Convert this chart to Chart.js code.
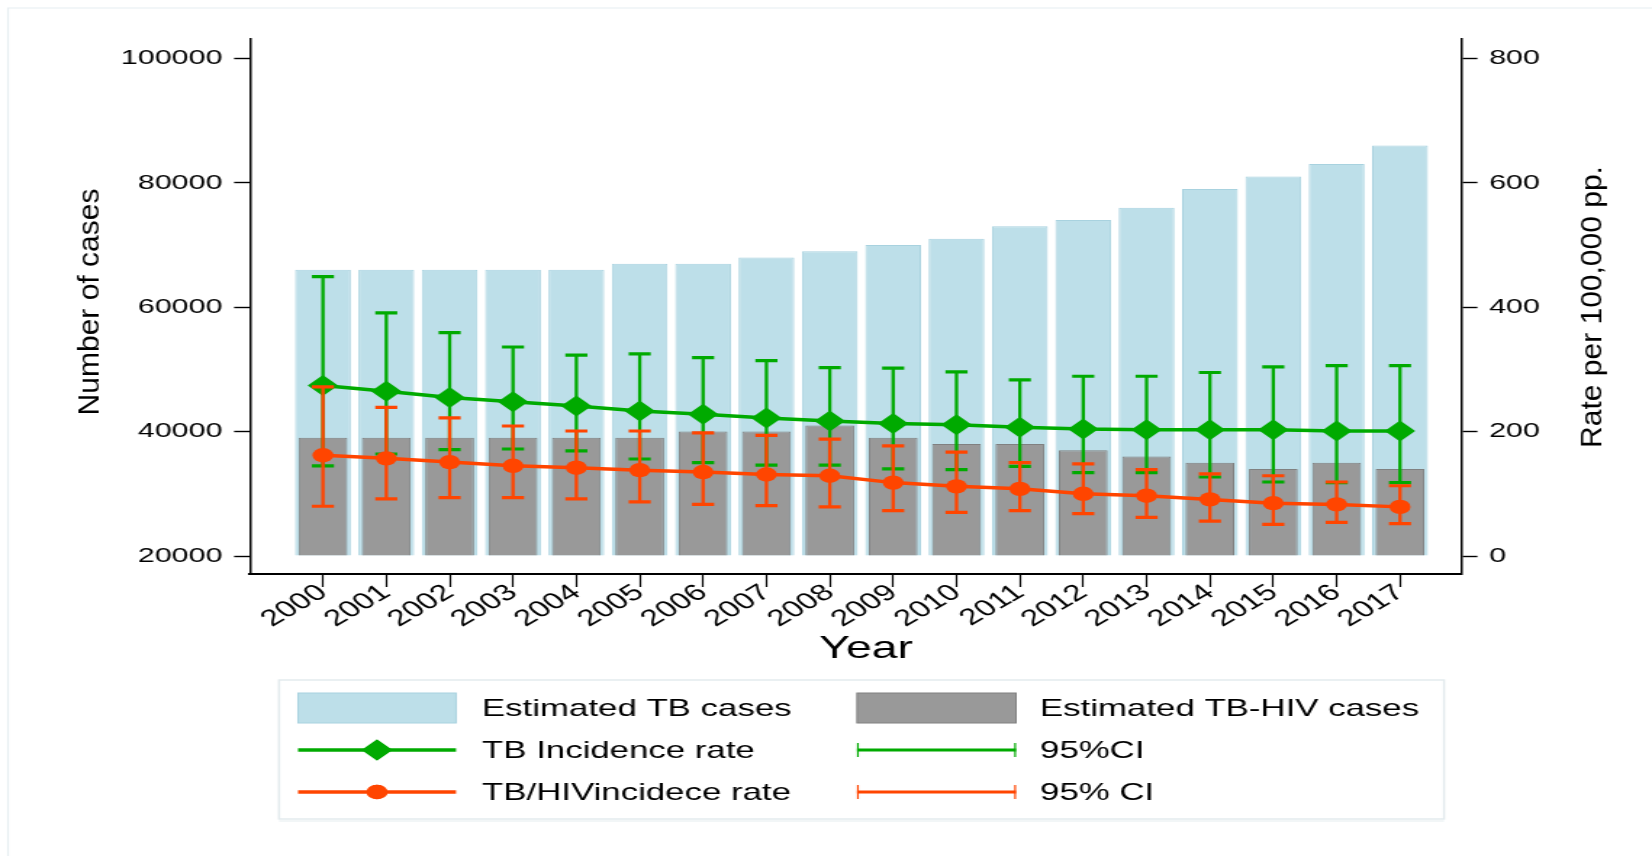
<!DOCTYPE html>
<html>
<head>
<meta charset="utf-8">
<script src="https://cdn.jsdelivr.net/npm/chart.js@4/dist/chart.umd.min.js"></script>
<style>
  html, body { margin: 0; padding: 0; background: #ffffff; }
  #c { display: block; width: 1652px; height: 856px; }
</style>
</head>
<body>
<canvas id="c" width="1139" height="856" style="width:1652px;height:856px;"></canvas>
<script>
// ---------------- DATA ----------------
const years = [2000, 2001, 2002, 2003, 2004, 2005, 2006, 2007, 2008, 2009, 2010, 2011, 2012, 2013, 2014, 2015, 2016, 2017];
const estimatedTBCases = [66000, 66000, 66000, 66000, 66000, 67000, 67000, 68000, 69000, 70000, 71000, 73000, 74000, 76000, 79000, 81000, 83000, 86000];
const estimatedTBHIVCases = [39000, 39000, 39000, 39000, 39000, 39000, 40000, 40000, 41000, 39000, 38000, 38000, 37000, 36000, 35000, 34000, 35000, 34000];
const tbIncidenceRate = [274, 265, 255, 248, 241, 233, 228, 222, 217, 213, 211, 207, 204, 203, 203, 203, 201, 201];
const tbIncidenceUpper = [449, 391, 359, 336, 323, 325, 319, 314, 303, 302, 296, 283, 289, 289, 295, 304, 306, 306];
const tbIncidenceLower = [145, 164, 171, 172, 169, 156, 150, 146, 146, 140, 139, 144, 134, 134, 127, 119, 118, 118];
const tbHivRate = [162, 157, 151, 145, 142, 138, 135, 131, 129, 118, 112, 108, 100, 97, 91, 85, 83, 79];
const tbHivUpper = [272, 239, 222, 209, 201, 201, 198, 194, 188, 177, 167, 150, 148, 139, 132, 129, 119, 113];
const tbHivLower = [80, 92, 94, 94, 92, 87, 83, 81, 79, 73, 70, 73, 68, 62, 56, 51, 54, 52];
const leftTicks = [20000, 40000, 60000, 80000, 100000];
const rightTicks = [0, 200, 400, 600, 800];
const legendLabels = ['Estimated TB cases', 'Estimated TB-HIV cases', 'TB Incidence rate', '95%CI', 'TB/HIVincidece rate', '95% CI'];
const xTitle = 'Year';
const leftTitle = 'Number of cases';
const rightTitle = 'Rate per 100,000 pp.';

// ---------------- STYLE / LAYOUT ----------------
const K = 1652 / 1139;           // canvas is stretched horizontally by CSS
const FONT = "'Liberation Sans', Arial, Helvetica, sans-serif";
const GREEN = '#00aa00';
const ORANGE = '#ff4500';
const LIGHTBLUE = '#bddfe9';
const GREY = '#999999';

const errorBars = {
  id: 'errorBars',
  beforeDatasetDraw(chart, args) {
    const ds = chart.data.datasets[args.index];
    if (!ds.errHigh) return;
    const ctx = chart.ctx;
    const xs = chart.scales.x;
    const ys = chart.scales[ds.yAxisID];
    const half = 7.6;
    ctx.save();
    ctx.strokeStyle = ds.borderColor;
    ctx.lineCap = 'butt';
    ds.errHigh.forEach((hi, i) => {
      const px = xs.getPixelForValue(years[i]);
      const pHi = ys.getPixelForValue(hi);
      const pLo = ys.getPixelForValue(ds.errLow[i]);
      ctx.lineWidth = 2.3;
      ctx.beginPath(); ctx.moveTo(px, pHi); ctx.lineTo(px, pLo); ctx.stroke();
      ctx.lineWidth = 3.2;
      ctx.beginPath();
      ctx.moveTo(px - half, pHi); ctx.lineTo(px + half, pHi);
      ctx.moveTo(px - half, pLo); ctx.lineTo(px + half, pLo);
      ctx.stroke();
    });
    ctx.restore();
  }
};

const decorations = {
  id: 'decorations',
  beforeDraw(chart) {
    const ctx = chart.ctx;
    ctx.save();
    ctx.strokeStyle = '#e6eef1';
    ctx.lineWidth = 1.2;
    ctx.beginPath();
    ctx.moveTo(8 / K, 856); ctx.lineTo(8 / K, 8); ctx.lineTo(1139, 8);
    ctx.stroke();
    ctx.restore();
  },
  afterDraw(chart) {
    const ctx = chart.ctx;
    const ds = chart.data.datasets;
    ctx.save();
    ctx.fillStyle = '#000';
    // x axis title
    ctx.font = '32px ' + FONT;
    ctx.textAlign = 'center';
    ctx.textBaseline = 'middle';
    ctx.fillText(xTitle, 866 / K, 649);
    // y axis titles (rotated, counter-stretched so that they keep normal proportions)
    ctx.font = '30px ' + FONT;
    [[leftTitle, 91 / K, 302], [rightTitle, 1593 / K, 307]].forEach(([t, cx, cy]) => {
      ctx.save();
      ctx.translate(cx, cy);
      ctx.scale(1 / K, 1);
      ctx.rotate(-Math.PI / 2);
      ctx.fillText(t, 0, 0);
      ctx.restore();
    });

    // legend box
    const bx0 = 279 / K, bx1 = 1444 / K, by0 = 680, by1 = 819;
    ctx.fillStyle = '#ffffff';
    ctx.fillRect(bx0, by0, bx1 - bx0, by1 - by0);
    ctx.strokeStyle = '#e3ebee';
    ctx.lineWidth = 1.5;
    ctx.strokeRect(bx0, by0, bx1 - bx0, by1 - by0);
    ctx.strokeStyle = '#eef3f5';
    ctx.beginPath(); ctx.moveTo(bx0, by1 + 2); ctx.lineTo(bx1, by1 + 2); ctx.stroke();

    const rows = [708, 750, 792];
    const cols = [{s0: 298 / K, s1: 456 / K, tx: 482 / K}, {s0: 857 / K, s1: 1016 / K, tx: 1040 / K}];
    ctx.font = '24px ' + FONT;
    ctx.textAlign = 'left';
    ctx.textBaseline = 'middle';
    const items = [
      {kind: 'bar', ds: ds[2]}, {kind: 'bar', ds: ds[3]},
      {kind: 'line', ds: ds[1]}, {kind: 'ci', ds: ds[1]},
      {kind: 'line', ds: ds[0]}, {kind: 'ci', ds: ds[0]}
    ];
    items.forEach((it, i) => {
      const r = rows[Math.floor(i / 2)];
      const c = cols[i % 2];
      const mid = (c.s0 + c.s1) / 2;
      if (it.kind === 'bar') {
        ctx.fillStyle = it.ds.backgroundColor;
        ctx.fillRect(c.s0, r - 15, c.s1 - c.s0, 30);
        ctx.strokeStyle = it.ds.borderColor;
        ctx.lineWidth = 1;
        ctx.strokeRect(c.s0, r - 15, c.s1 - c.s0, 30);
      } else if (it.kind === 'line') {
        ctx.strokeStyle = it.ds.borderColor;
        ctx.lineWidth = 3.5;
        ctx.beginPath(); ctx.moveTo(c.s0, r); ctx.lineTo(c.s1, r); ctx.stroke();
        ctx.fillStyle = it.ds.borderColor;
        Chart.helpers.drawPoint(ctx, {pointStyle: it.ds.pointStyle, radius: it.ds.pointRadius, borderWidth: 0, rotation: 0}, mid, r);
        ctx.fill();
      } else {
        ctx.strokeStyle = it.ds.borderColor;
        ctx.lineWidth = 3.2;
        ctx.beginPath(); ctx.moveTo(c.s0, r); ctx.lineTo(c.s1, r); ctx.stroke();
        ctx.lineWidth = 1.2;
        ctx.beginPath();
        ctx.moveTo(c.s0 + 0.6, r - 7); ctx.lineTo(c.s0 + 0.6, r + 7);
        ctx.moveTo(c.s1 - 0.6, r - 7); ctx.lineTo(c.s1 - 0.6, r + 7);
        ctx.stroke();
      }
      ctx.fillStyle = '#000';
      ctx.fillText(legendLabels[i], c.tx, r + 1);
    });
    ctx.restore();
  }
};

const tickFont = {family: FONT, size: 21};

const chart = new Chart(document.getElementById('c'), {
  type: 'bar',
  data: {
    labels: years,
    datasets: [
      {
        type: 'line', label: legendLabels[4], data: tbHivRate, yAxisID: 'y1', order: 0,
        borderColor: ORANGE, backgroundColor: ORANGE, borderWidth: 3.5,
        pointStyle: 'circle', pointRadius: 7.2, pointBorderWidth: 0, pointBackgroundColor: ORANGE,
        errHigh: tbHivUpper, errLow: tbHivLower, tension: 0
      },
      {
        type: 'line', label: legendLabels[2], data: tbIncidenceRate, yAxisID: 'y1', order: 1,
        borderColor: GREEN, backgroundColor: GREEN, borderWidth: 3.5,
        pointStyle: 'rectRot', pointRadius: 10.5, pointBorderWidth: 0, pointBackgroundColor: GREEN,
        errHigh: tbIncidenceUpper, errLow: tbIncidenceLower, tension: 0
      },
      {
        type: 'bar', label: legendLabels[0], data: estimatedTBCases, yAxisID: 'y', order: 3,
        backgroundColor: LIGHTBLUE, borderColor: '#a8d2df', borderWidth: 1,
        base: 20000, grouped: false, categoryPercentage: 1, barPercentage: 0.88
      },
      {
        type: 'bar', label: legendLabels[1], data: estimatedTBHIVCases, yAxisID: 'y', order: 2,
        backgroundColor: GREY, borderColor: '#808080', borderWidth: 1,
        base: 20000, grouped: false, categoryPercentage: 1, barPercentage: 0.77
      }
    ]
  },
  options: {
    responsive: false,
    animation: false,
    devicePixelRatio: 1,
    layout: {padding: {top: 39, left: 0, right: 0, bottom: 0}},
    plugins: {legend: {display: false}, tooltip: {enabled: false}, title: {display: false}},
    scales: {
      x: {
        type: 'linear', offset: false, min: 1998.849, max: 2017.971,
        afterBuildTicks: (s) => { s.ticks = years.map(v => ({value: v})); },
        afterFit: (s) => { s.height = 282; },
        ticks: {autoSkip: false, minRotation: 40, maxRotation: 40, color: '#000', font: {family: FONT, size: 23}, padding: -8,
                callback: (v) => String(v)},
        grid: {display: true, drawOnChartArea: false, drawTicks: true, tickLength: 13, tickColor: '#000', tickWidth: 1.2, offset: false},
        border: {display: true, color: '#000', width: 2},
        title: {display: false}
      },
      y: {
        type: 'linear', position: 'left', min: 17112, max: 103113,
        afterBuildTicks: (s) => { s.ticks = leftTicks.map(v => ({value: v})); },
        afterFit: (s) => { s.width = 250 / K; },
        ticks: {color: '#000', font: tickFont, padding: 8, callback: (v) => String(v)},
        grid: {display: true, drawOnChartArea: false, drawTicks: true, tickLength: 11, tickColor: '#000', tickWidth: 1.4},
        border: {display: true, color: '#000', width: 1.5}
      },
      y1: {
        type: 'linear', position: 'right', min: -28.9, max: 831.1,
        afterBuildTicks: (s) => { s.ticks = rightTicks.map(v => ({value: v})); },
        afterFit: (s) => { s.width = 1139 - 1461.5 / K; },
        ticks: {color: '#000', font: tickFont, padding: 8, callback: (v) => String(v)},
        grid: {display: true, drawOnChartArea: false, drawTicks: true, tickLength: 11, tickColor: '#000', tickWidth: 1.4},
        border: {display: true, color: '#000', width: 1.5}
      }
    }
  },
  plugins: [errorBars, decorations]
});
</script>
</body>
</html>
